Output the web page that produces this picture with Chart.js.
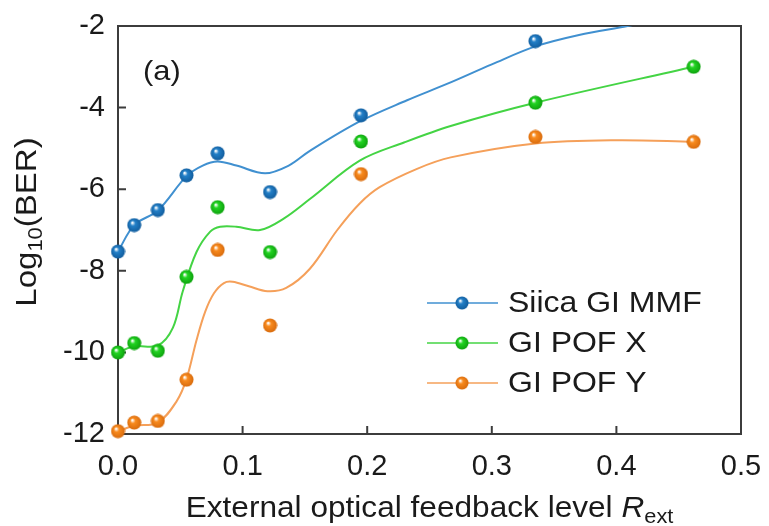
<!DOCTYPE html>
<html>
<head>
<meta charset="utf-8">
<script src="https://cdn.jsdelivr.net/npm/chart.js@4/dist/chart.umd.min.js"></script>
<style>
  body { margin: 0; background: #fff; }
  #wrap { width: 769px; height: 526px; }
</style>
</head>
<body>
<div id="wrap"><canvas id="berChart"></canvas></div>
<script>
// measured points (x = external feedback level, y = log10 BER)
const feedback = [0, 0.013, 0.032, 0.055, 0.080, 0.122, 0.195, 0.335, 0.462];
const silicaBER = [-7.53, -6.88, -6.51, -5.66, -5.12, -6.07, -4.19, -2.37, null];
const pofXBER   = [-10.0, -9.77, -9.96, -8.15, -6.44, -7.54, -4.83, -3.88, -3.0];
const pofYBER   = [-11.93, -11.72, -11.68, -10.67, -7.49, -9.34, -5.63, -4.72, -4.84];

// fitted curves
const silicaFitX = [0, 0.013, 0.032, 0.055, 0.068, 0.080, 0.095, 0.118, 0.137, 0.154, 0.194, 0.232, 0.264, 0.30, 0.335, 0.37, 0.409, 0.45];
const silicaFitY = [-7.53, -6.88, -6.52, -5.68, -5.42, -5.32, -5.42, -5.61, -5.42, -5.06, -4.34, -3.82, -3.42, -2.94, -2.5, -2.22, -2.0, -1.75];
const pofXFitX = [0, 0.013, 0.032, 0.044, 0.052, 0.063, 0.074, 0.082, 0.095, 0.114, 0.133, 0.154, 0.194, 0.23, 0.267, 0.335, 0.462];
const pofXFitY = [-10.0, -9.85, -9.83, -9.4, -8.5, -7.54, -7.04, -6.92, -6.92, -7.0, -6.72, -6.24, -5.3, -4.85, -4.45, -3.88, -3.0];
const pofYFitX = [0, 0.013, 0.032, 0.047, 0.055, 0.063, 0.07, 0.077, 0.085, 0.092, 0.105, 0.12, 0.135, 0.154, 0.176, 0.194, 0.21, 0.24, 0.267, 0.335, 0.40, 0.462];
const pofYFitY = [-11.93, -11.8, -11.72, -11.2, -10.65, -9.7, -9.0, -8.55, -8.3, -8.27, -8.38, -8.5, -8.42, -7.95, -7.0, -6.35, -5.95, -5.5, -5.22, -4.88, -4.8, -4.84];

const seriesNames = ["Siica GI MMF", "GI POF X", "GI POF Y"];
const xTicks = [0, 0.1, 0.2, 0.3, 0.4, 0.5];
const yTicks = [-12, -10, -8, -6, -4, -2];

const FONT = '"Liberation Sans", Arial, Helvetica, sans-serif';

function pairs(xs, ys) {
  const out = [];
  xs.forEach((x, i) => { if (ys[i] !== null) out.push({ x: x, y: ys[i] }); });
  return out;
}

// little shaded sphere used as point marker
function ball(color, dark) {
  const c = document.createElement("canvas");
  c.width = 15; c.height = 15;
  const g = c.getContext("2d");
  const grad = g.createRadialGradient(5.5, 5, 0.5, 7.5, 7.5, 7.5);
  grad.addColorStop(0, "#ffffff");
  grad.addColorStop(0.3, color);
  grad.addColorStop(1, dark);
  g.fillStyle = grad;
  g.beginPath();
  g.arc(7.5, 7.5, 7, 0, Math.PI * 2);
  g.fill();
  return c;
}

const colors = [
  { pt: "#2380c8", dark: "#105a9a", line: "#4090d0" },
  { pt: "#22d422", dark: "#0c9e0c", line: "#44d444" },
  { pt: "#f98b1e", dark: "#d6690c", line: "#f5a05a" }
];
const balls = colors.map(c => ball(c.pt, c.dark));

function pointSet(i, ys) {
  return {
    type: "scatter",
    label: seriesNames[i],
    data: pairs(feedback, ys),
    pointStyle: balls[i],
    pointRadius: 7,
    showLine: false,
    clip: false,
    order: 0
  };
}
function fitSet(i, xs, ys) {
  return {
    type: "line",
    label: "",
    data: pairs(xs, ys),
    borderColor: colors[i].line,
    borderWidth: 2,
    pointRadius: 0,
    fill: false,
    tension: 0.35,
    order: 1
  };
}

// text drawn a bit wider, like the original figure's font
function wideText(ctx, text, x, y, sx) {
  ctx.save();
  ctx.translate(x, y);
  ctx.scale(sx, 1);
  ctx.fillText(text, 0, 0);
  ctx.restore();
  return ctx.measureText(text).width * sx;
}

const framePlugin = {
  id: "frame",
  beforeDatasetsDraw(chart) {
    const { ctx, chartArea: a, scales } = chart;
    ctx.save();
    ctx.strokeStyle = "#3c3c3c";
    ctx.lineWidth = 2;
    ctx.strokeRect(a.left, a.top, a.right - a.left, a.bottom - a.top);
    ctx.beginPath();
    xTicks.slice(1, -1).forEach(v => {
      const px = scales.x.getPixelForValue(v);
      ctx.moveTo(px, a.bottom); ctx.lineTo(px, a.bottom - 8);
    });
    yTicks.slice(1, -1).forEach(v => {
      const py = scales.y.getPixelForValue(v);
      ctx.moveTo(a.left, py); ctx.lineTo(a.left + 8, py);
    });
    ctx.stroke();
    ctx.restore();
  },
  afterDraw(chart) {
    const { ctx, chartArea: a } = chart;
    ctx.save();
    ctx.fillStyle = "#1a1a1a";

    // panel label
    ctx.font = "28px " + FONT;
    ctx.textBaseline = "middle";
    ctx.textAlign = "left";
    wideText(ctx, "(a)", a.left + 25, a.top + 46, 1.1);

    // y title with subscript
    ctx.textBaseline = "alphabetic";
    const sy = 1.1;
    ctx.save();
    ctx.translate(36, (a.top + a.bottom) / 2 - 8);
    ctx.rotate(-Math.PI / 2);
    ctx.font = "30px " + FONT;
    const w1 = ctx.measureText("Log").width * sy, w3 = ctx.measureText("(BER)").width * sy;
    ctx.font = "20px " + FONT;
    const w2 = ctx.measureText("10").width * sy;
    let sx = -(w1 + w2 + w3) / 2;
    ctx.font = "30px " + FONT; sx += wideText(ctx, "Log", sx, 0, sy);
    ctx.font = "20px " + FONT; sx += wideText(ctx, "10", sx, 6, sy);
    ctx.font = "30px " + FONT; wideText(ctx, "(BER)", sx, 0, sy);
    ctx.restore();

    // x title with italic R and subscript
    const k = 1.09;
    ctx.font = "29px " + FONT;
    const t1 = "External optical feedback level ";
    const x1 = ctx.measureText(t1).width * k;
    ctx.font = "italic 29px " + FONT;
    const x2 = ctx.measureText("R").width * k;
    ctx.font = "20px " + FONT;
    const x3 = ctx.measureText("ext").width * k;
    let tx = (a.left + a.right) / 2 - (x1 + x2 + x3) / 2;
    const ty = a.bottom + 83;
    ctx.font = "29px " + FONT; tx += wideText(ctx, t1, tx, ty, k);
    ctx.font = "italic 29px " + FONT; tx += wideText(ctx, "R", tx, ty, k);
    ctx.font = "20px " + FONT; wideText(ctx, "ext", tx, ty + 6, k);

    // legend
    const rows = [a.bottom - 131, a.bottom - 91, a.bottom - 51];
    const lx = a.right - 314;
    ctx.font = "30px " + FONT;
    ctx.textBaseline = "middle";
    seriesNames.forEach((name, i) => {
      ctx.strokeStyle = colors[i].line;
      ctx.lineWidth = 1.5;
      ctx.beginPath();
      ctx.moveTo(lx, rows[i]); ctx.lineTo(lx + 71, rows[i]);
      ctx.stroke();
      ctx.drawImage(balls[i], lx + 35 - 7, rows[i] - 7, 14, 14);
      wideText(ctx, name, lx + 81, rows[i] + 1, 1.066);
    });
    ctx.restore();
  }
};

const chart = new Chart(document.getElementById("berChart").getContext("2d"), {
  type: "scatter",
  data: {
    datasets: [
      pointSet(0, silicaBER),
      pointSet(1, pofXBER),
      pointSet(2, pofYBER),
      fitSet(0, silicaFitX, silicaFitY),
      fitSet(1, pofXFitX, pofXFitY),
      fitSet(2, pofYFitX, pofYFitY)
    ]
  },
  options: {
    responsive: true,
    maintainAspectRatio: false,
    animation: false,
    layout: { padding: { top: 26, right: 28, left: 0, bottom: 0 } },
    plugins: { legend: { display: false }, tooltip: { enabled: false } },
    scales: {
      x: {
        type: "linear",
        min: 0, max: 0.5,
        afterBuildTicks: s => { s.ticks = xTicks.map(v => ({ value: v })); },
        afterFit: s => { s.height = 92; s.paddingLeft = 0; s.paddingRight = 0; },
        grid: { display: false, drawTicks: false },
        border: { display: false },
        ticks: {
          padding: 16,
          color: "#1a1a1a",
          font: { family: FONT, size: 29 },
          callback: v => v.toFixed(1)
        }
      },
      y: {
        min: -12, max: -2,
        afterBuildTicks: s => { s.ticks = yTicks.map(v => ({ value: v })); },
        afterFit: s => { s.width = 118; s.paddingTop = 0; s.paddingBottom = 0; },
        grid: { display: false, drawTicks: false },
        border: { display: false },
        ticks: {
          padding: 13,
          color: "#1a1a1a",
          font: { family: FONT, size: 29 },
          callback: v => String(v)
        }
      }
    }
  },
  plugins: [framePlugin]
});
</script>
</body>
</html>
